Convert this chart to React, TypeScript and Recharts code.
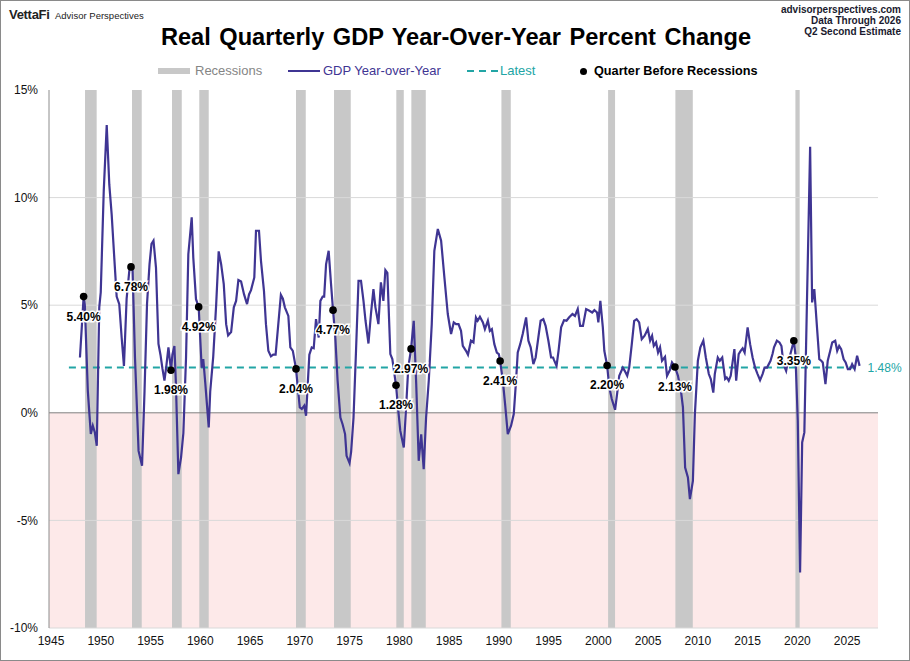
import React from "react"
import {
  ComposedChart,
  Line,
  Scatter,
  XAxis,
  YAxis,
  ReferenceArea,
  ReferenceLine,
} from "recharts"

// GDP year-over-year % change (decimal years)
const gdpDates = [
  1947.91, 1948.28, 1948.4, 1948.7, 1949.0, 1949.2, 1949.4, 1949.6, 1949.85, 1950.0,
  1950.3, 1950.6, 1950.86, 1951.1, 1951.36, 1951.6, 1951.86, 1952.1, 1952.33, 1952.6,
  1952.87, 1953.04, 1953.2, 1953.44, 1953.8, 1954.15, 1954.4, 1954.65, 1954.9, 1955.1,
  1955.3, 1955.55, 1955.8, 1956.0, 1956.2, 1956.4, 1956.6, 1956.8, 1957.06, 1957.2,
  1957.4, 1957.55, 1957.8, 1958.07, 1958.3, 1958.57, 1958.8, 1959.14, 1959.3, 1959.57,
  1959.84, 1960.14, 1960.3, 1960.5, 1960.85, 1961.0, 1961.3, 1961.6, 1961.85, 1962.1,
  1962.36, 1962.6, 1962.8, 1963.1, 1963.37, 1963.6, 1963.83, 1964.1, 1964.4, 1964.7,
  1964.9, 1965.1, 1965.43, 1965.6, 1965.9, 1966.1, 1966.4, 1966.6, 1966.84, 1967.1,
  1967.33, 1967.57, 1967.84, 1968.1, 1968.3, 1968.5, 1968.85, 1969.05, 1969.3, 1969.62,
  1969.8, 1970.0, 1970.2, 1970.45, 1970.63, 1970.8, 1970.96, 1971.2, 1971.4, 1971.63,
  1971.9, 1972.07, 1972.3, 1972.45, 1972.64, 1972.9, 1973.14, 1973.34, 1973.57, 1973.8,
  1974.08, 1974.3, 1974.55, 1974.7, 1975.0, 1975.16, 1975.4, 1975.65, 1975.9, 1976.15,
  1976.4, 1976.6, 1976.9, 1977.15, 1977.4, 1977.6, 1977.9, 1978.15, 1978.4, 1978.6,
  1978.8, 1979.1, 1979.3, 1979.67, 1979.9, 1980.1, 1980.45, 1980.7, 1980.9, 1981.18,
  1981.45, 1981.7, 1981.95, 1982.2, 1982.45, 1982.69, 1982.96, 1983.26, 1983.52, 1983.87,
  1984.2, 1984.53, 1984.87, 1985.2, 1985.47, 1985.7, 1985.95, 1986.2, 1986.38, 1986.7,
  1986.9, 1987.2, 1987.45, 1987.7, 1987.87, 1988.1, 1988.4, 1988.6, 1988.9, 1989.1,
  1989.3, 1989.55, 1989.8, 1990.0, 1990.13, 1990.4, 1990.63, 1990.9, 1991.23, 1991.5,
  1991.73, 1991.9, 1992.15, 1992.4, 1992.74, 1992.97, 1993.2, 1993.47, 1993.7, 1993.97,
  1994.2, 1994.47, 1994.7, 1994.98, 1995.25, 1995.45, 1995.55, 1995.8, 1996.0, 1996.26,
  1996.55, 1996.8, 1997.05, 1997.4, 1997.65, 1997.93, 1998.17, 1998.45, 1998.77, 1999.1,
  1999.38, 1999.6, 1999.87, 2000.0, 2000.2, 2000.45, 2000.6, 2000.88, 2001.1, 2001.35,
  2001.68, 2001.9, 2002.1, 2002.46, 2002.65, 2002.9, 2003.1, 2003.36, 2003.6, 2003.85,
  2004.1, 2004.36, 2004.65, 2004.97, 2005.2, 2005.4, 2005.57, 2005.8, 2006.0, 2006.2,
  2006.4, 2006.7, 2006.9, 2007.2, 2007.4, 2007.7, 2008.0, 2008.3, 2008.5, 2008.72,
  2009.0, 2009.2, 2009.5, 2009.7, 2010.0, 2010.25, 2010.55, 2010.8, 2011.1, 2011.3,
  2011.55, 2011.7, 2012.0, 2012.2, 2012.45, 2012.74, 2012.9, 2013.1, 2013.3, 2013.67,
  2013.85, 2014.1, 2014.3, 2014.5, 2014.7, 2015.0, 2015.25, 2015.5, 2015.75, 2016.0,
  2016.25, 2016.5, 2016.7, 2016.95, 2017.3, 2017.5, 2017.65, 2017.94, 2018.2, 2018.4,
  2018.6, 2018.87, 2019.0, 2019.15, 2019.3, 2019.64, 2019.8, 2020.04, 2020.27, 2020.48,
  2020.7, 2020.95, 2021.28, 2021.48, 2021.7, 2021.97, 2022.2, 2022.4, 2022.55, 2022.82,
  2023.05, 2023.3, 2023.5, 2023.8, 2024.0, 2024.2, 2024.4, 2024.65, 2024.85, 2025.07,
  2025.3, 2025.5, 2025.75, 2026.0, 2026.25,
]
const gdpYoY = [
  2.57, 5.4, 5.0, 1.02, -0.98, -0.6, -0.9, -1.53, 4.9, 5.6,
  10.3, 13.37, 10.6, 9.2, 7.2, 5.4, 5.05, 3.5, 2.18, 5.3,
  6.6, 6.78, 6.6, 2.57, -1.77, -2.46, 1.02, 5.06, 6.9, 7.85,
  8.0, 6.75, 3.2, 2.7, 2.05, 1.5, 2.2, 3.04, 1.98, 2.7,
  3.1, 1.4, -2.85, -2.07, -0.95, 2.57, 7.37, 9.08, 7.2, 5.28,
  4.92, 2.1, 2.5, 1.4, -0.68, 1.0, 2.6, 5.05, 7.5, 6.9,
  5.98, 4.12, 3.6, 3.75, 4.9, 5.2, 6.17, 6.1, 5.5, 5.05,
  5.5, 5.7, 6.29, 8.46, 8.46, 7.06, 5.67, 4.12, 2.88, 2.62,
  2.7, 2.7, 4.12, 5.48, 5.3, 4.9, 4.5, 3.04, 2.88, 2.04,
  1.18, 0.25, 0.18, 0.33, -0.14, 1.33, 2.7, 3.04, 3.0, 4.35,
  3.5, 5.2, 5.4, 5.4, 6.9, 7.53, 5.98, 4.77, 3.5, 1.49,
  -0.22, -0.53, -0.99, -2.0, -2.34, -1.8, -0.22, 2.88, 6.13, 6.13,
  5.2, 4.3, 3.22, 4.59, 5.75, 4.9, 4.12, 6.06, 5.2, 6.63,
  6.5, 2.73, 2.5, 1.28, 0.09, -0.84, -1.61, 0.4, 2.1, 2.97,
  4.27, 1.33, -2.23, -1.0, -2.62, -0.22, 1.49, 4.12, 7.53, 8.54,
  8.0, 6.29, 4.59, 3.66, 4.2, 4.12, 4.12, 3.81, 3.11, 2.88,
  2.7, 3.35, 3.27, 4.43, 4.28, 4.46, 4.2, 3.89, 4.28, 3.81,
  3.89, 3.19, 2.8, 2.73, 2.41, 1.49, 0.4, -0.99, -0.6, -0.06,
  1.49, 2.8, 3.19, 3.66, 4.43, 3.35, 3.04, 2.26, 2.57, 3.5,
  4.28, 4.35, 4.04, 3.35, 2.57, 2.57, 2.45, 2.18, 2.88, 3.97,
  4.3, 4.28, 4.43, 4.59, 4.5, 4.82, 4.04, 4.04, 4.82, 4.74,
  4.66, 4.77, 4.66, 4.2, 5.2, 3.97, 2.88, 2.2, 1.18, 0.64,
  0.14, 0.94, 1.72, 2.1, 1.95, 1.72, 2.1, 3.19, 4.27, 4.35,
  4.2, 3.42, 3.58, 3.89, 3.35, 3.58, 3.11, 3.27, 2.8, 3.04,
  2.42, 2.6, 1.72, 2.0, 2.34, 2.13, 1.72, 1.02, 0.25, -2.54,
  -3.0, -4.01, -3.16, -0.06, 2.42, 3.04, 3.35, 2.57, 1.8, 1.57,
  0.94, 1.8, 2.57, 2.42, 2.57, 1.57, 1.64, 1.49, 1.72, 2.96,
  1.49, 2.73, 2.88, 3.0, 2.8, 3.97, 3.19, 2.57, 2.1, 1.8,
  1.52, 1.8, 2.1, 2.1, 2.42, 2.73, 3.04, 3.35, 3.27, 3.1,
  2.26, 1.95, 2.26, 2.42, 2.73, 3.35, 2.73, -0.37, -7.42, -1.38,
  -0.91, 4.9, 12.36, 5.13, 5.75, 3.97, 2.49, 2.42, 2.34, 1.33,
  2.42, 2.88, 3.27, 3.35, 2.88, 3.11, 2.96, 2.49, 2.34, 2.03,
  2.03, 2.26, 2.03, 2.65, 2.18,
]

// recession shading (start / end, decimal years)
const recessionStarts = [1948.42, 1953.14, 1957.16, 1959.9, 1969.62, 1973.44, 1979.7, 1981.21, 1990.26, 2000.98, 2007.74, 2019.8]
const recessionEnds = [1949.59, 1954.12, 1958.14, 1960.85, 1970.6, 1975.12, 1980.45, 1982.66, 1991.2, 2001.68, 2009.49, 2020.23]

// quarter before each recession
const preRecessionDates = [1948.28, 1953.04, 1957.06, 1959.84, 1969.62, 1973.34, 1979.67, 1981.18, 1990.13, 2000.88, 2007.7, 2019.64]
const preRecessionValues = [5.4, 6.78, 1.98, 4.92, 2.04, 4.77, 1.28, 2.97, 2.41, 2.2, 2.13, 3.35]
const preRecessionLabels = ["5.40%", "6.78%", "1.98%", "4.92%", "2.04%", "4.77%", "1.28%", "2.97%", "2.41%", "2.20%", "2.13%", "3.35%"]

const latestStart = 1946.8
const latestEnd = 2026.25
const latestValue = 2.1
const latestLabel = "1.48%"

const xTicks = [1945, 1950, 1955, 1960, 1965, 1970, 1975, 1980, 1985, 1990, 1995, 2000, 2005, 2010, 2015, 2020, 2025]
const yTicks = [-10, -5, 0, 5, 10, 15]
const gridLevels = [-10, -5, 5, 10]

const X_MIN = 1944.8
const X_MAX = 2028.1

const PURPLE = "#3f3593"
const TEAL = "#22a5a5"
const FONT = "'Liberation Sans', Arial, sans-serif"

const gdpData = gdpDates.map((d, i) => ({ year: d, gdp: gdpYoY[i] }))
const dotData = preRecessionDates.map((d, i) => ({
  year: d,
  value: preRecessionValues[i],
  label: preRecessionLabels[i],
}))
const latestData = [
  { year: latestStart, latest: latestValue },
  { year: latestEnd, latest: latestValue },
]

const DotShape = (props: any) => {
  const { cx, cy, payload } = props
  return (
    <g>
      <circle cx={cx} cy={cy} r={3.8} fill="#000" />
      <text
        x={cx}
        y={cy + 20}
        textAnchor="middle"
        dominantBaseline="central"
        fontSize={12}
        fontWeight="bold"
        fontFamily={FONT}
        fill="#000"
        stroke="#fff"
        strokeWidth={3}
        paintOrder="stroke"
      >
        {payload.label}
      </text>
    </g>
  )
}

const LatestLabel = (props: any) => {
  const { x, y, index } = props
  if (index !== latestData.length - 1) return null
  return (
    <text x={x + 8} y={y} dominantBaseline="central" fontSize={12} fontFamily={FONT} fill={TEAL}>
      {latestLabel}
    </text>
  )
}

const Legend = () => {
  const item: React.CSSProperties = { position: "absolute", top: 62, fontSize: 13, fontFamily: FONT, lineHeight: "16px" }
  return (
    <>
      <div style={{ position: "absolute", left: 157, top: 67, width: 32, height: 6, background: "#c8c8c8" }} />
      <div style={{ ...item, left: 194, color: "#858585" }}>Recessions</div>
      <div style={{ position: "absolute", left: 287, top: 69, width: 32, height: 2, background: PURPLE }} />
      <div style={{ ...item, left: 322, color: PURPLE }}>GDP Year-over-Year</div>
      <svg style={{ position: "absolute", left: 466, top: 66 }} width={32} height={8}>
        <line x1={0} y1={4} x2={32} y2={4} stroke={TEAL} strokeWidth={2} strokeDasharray="7 5" />
      </svg>
      <div style={{ ...item, left: 499, color: TEAL }}>Latest</div>
      <div style={{ position: "absolute", left: 578.5, top: 66.5, width: 7, height: 7, borderRadius: "50%", background: "#000" }} />
      <div style={{ ...item, left: 593, color: "#000", fontWeight: "bold", fontSize: 12.7 }}>Quarter Before Recessions</div>
    </>
  )
}

export default function App() {
  return (
    <div
      style={{
        position: "absolute",
        left: 0,
        top: 0,
        width: 910,
        height: 661,
        background: "#fff",
        boxSizing: "border-box",
        border: "1px solid #8a8a8a",
        fontFamily: FONT,
        overflow: "hidden",
      }}
    >
      <div style={{ position: "absolute", left: 0, top: 0 }}>
        <ComposedChart width={910} height={661} margin={{ top: 89, right: 33, bottom: 4, left: 0 }}>
          <XAxis
            dataKey="year"
            type="number"
            domain={[X_MIN, X_MAX]}
            ticks={xTicks}
            allowDataOverflow
            axisLine={false}
            tickLine={false}
            height={30}
            tick={{ fontSize: 12, fill: "#111", fontFamily: FONT }}
          />
          <YAxis
            type="number"
            domain={[-10, 15]}
            ticks={yTicks}
            width={48}
            tickFormatter={(v: number) => `${v}%`}
            axisLine={{ stroke: "#8c8c8c" }}
            tickLine={false}
            tickMargin={5}
            tick={{ fontSize: 12, fill: "#111", fontFamily: FONT }}
          />
          <ReferenceArea x1={X_MIN} x2={X_MAX} y1={-10} y2={0} fill="#fde9e9" fillOpacity={1} stroke="none" />
          {gridLevels.map((g) => (
            <ReferenceLine key={`g-${g}`} y={g} stroke="#d9d9d9" strokeWidth={1} />
          ))}
          {recessionStarts.map((s, i) => (
            <ReferenceArea
              key={`rec-${i}`}
              x1={s}
              x2={recessionEnds[i]}
              y1={-10}
              y2={15}
              fill="#c8c8c8"
              fillOpacity={1}
              stroke="none"
            />
          ))}
          <ReferenceLine y={0} stroke="#808080" strokeWidth={1} />
          <Line
            data={latestData}
            dataKey="latest"
            stroke={TEAL}
            strokeWidth={2}
            strokeDasharray="7 5"
            dot={false}
            isAnimationActive={false}
            label={<LatestLabel />}
          />
          <Line
            data={gdpData}
            dataKey="gdp"
            type="linear"
            stroke={PURPLE}
            strokeWidth={2.2}
            dot={false}
            isAnimationActive={false}
          />
          <Scatter data={dotData} dataKey="value" shape={<DotShape />} isAnimationActive={false} />
        </ComposedChart>
      </div>

      <div style={{ position: "absolute", left: 8, top: 6, fontSize: 13, fontWeight: "bold", color: "#222", letterSpacing: -0.3 }}>
        VettaFi
      </div>
      <div style={{ position: "absolute", left: 54, top: 9, fontSize: 9.5, color: "#222" }}>Advisor Perspectives</div>

      <div
        style={{
          position: "absolute",
          right: 8,
          top: 3,
          fontSize: 10,
          fontWeight: "bold",
          color: "#1a1a2e",
          textAlign: "right",
          lineHeight: "11px",
        }}
      >
        <div>advisorperspectives.com</div>
        <div>Data Through 2026</div>
        <div>Q2 Second Estimate</div>
      </div>

      <div
        style={{
          position: "absolute",
          left: 0,
          width: 910,
          top: 23,
          textAlign: "center",
          fontSize: 23.6,
          fontWeight: "bold",
          color: "#000",
          wordSpacing: 2,
        }}
      >
        Real Quarterly GDP Year-Over-Year Percent Change
      </div>

      <Legend />
    </div>
  )
}
